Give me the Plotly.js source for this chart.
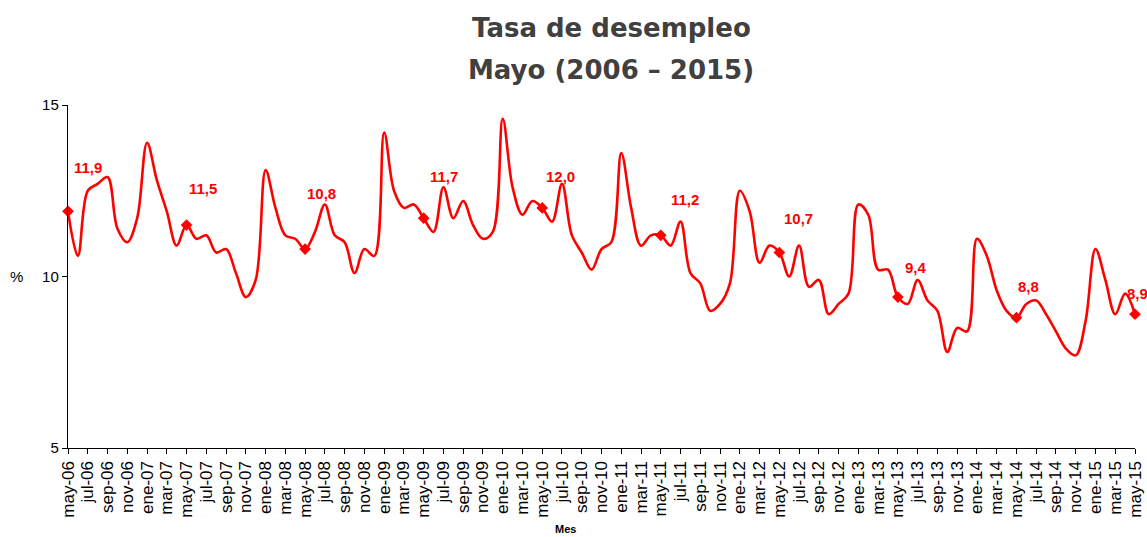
<!DOCTYPE html>
<html>
<head>
<meta charset="utf-8">
<script src="https://cdn.plot.ly/plotly-3.0.1.min.js"></script>
<style>
  html, body { margin: 0; padding: 0; background: #ffffff; }
  #chart { width: 1147px; height: 537px; }
</style>
</head>
<body>
<div id="chart"></div>
<script>
// ---- DATA ----
const monthAbbr = ["ene","feb","mar","abr","may","jun","jul","ago","sep","oct","nov","dic"];

// Monthly unemployment rate (%), May 2006 – May 2015
const rate2006 = [11.9, 10.6, 12.5, 12.7, 12.9, 11.4, 11.0, 11.7];            // may–dic
const rate2007 = [13.9, 12.8, 11.9, 10.9, 11.5, 11.1, 11.2, 10.7, 10.8, 10.1, 9.4, 9.9];
const rate2008 = [13.1, 12.0, 11.2, 11.1, 10.8, 11.3, 12.1, 11.2, 11.0, 10.1, 10.8, 10.6];
const rate2009 = [14.2, 12.5, 12.0, 12.1, 11.7, 11.3, 12.6, 11.7, 12.2, 11.5, 11.1, 11.3];
const rate2010 = [14.6, 12.6, 11.8, 12.2, 12.0, 11.6, 12.7, 11.2, 10.7, 10.2, 10.8, 11.0];
const rate2011 = [13.6, 12.0, 10.9, 11.2, 11.2, 10.9, 11.6, 10.1, 9.8, 9.0, 9.2, 9.8];
const rate2012 = [12.5, 11.9, 10.4, 10.9, 10.7, 10.0, 10.9, 9.7, 9.9, 8.9, 9.2, 9.5];
const rate2013 = [12.1, 11.8, 10.2, 10.2, 9.4, 9.2, 9.9, 9.3, 9.0, 7.8, 8.5, 8.4];
const rate2014 = [11.1, 10.6, 9.6, 9.0, 8.8, 9.2, 9.3, 8.9, 8.4, 7.9, 7.7, 8.7];
const rate2015 = [10.8, 9.9, 8.9, 9.5, 8.9];                                    // ene–may

const startYear = 2006, startMonth = 4; // may (0-based)

const titleLine1 = "Tasa de desempleo";
const titleLine2 = "Mayo (2006 – 2015)";
const yTitle = "%";
const xTitle = "Mes";

// ---- BUILD ----
const values = [].concat(rate2006, rate2007, rate2008, rate2009, rate2010,
                         rate2011, rate2012, rate2013, rate2014, rate2015);
const categories = values.map((v, i) => {
  const m = (startMonth + i) % 12;
  const y = startYear + Math.floor((startMonth + i) / 12);
  return monthAbbr[m] + "-" + String(y).slice(2);
});

// tick labels every two months
const tickVals = categories.filter((c, i) => i % 2 === 0);

// May points (highlighted)
const mayIdx = categories.map((c, i) => i).filter(i => categories[i].startsWith("may"));
const mayCats = mayIdx.map(i => categories[i]);
const mayVals = mayIdx.map(i => values[i]);

// label offsets (px) for each May label
const labelDx = [20, 16, 16, 20, 18, 24, 19, 18, 12, 2];
const labelDy = [44, 37, 56, 42, 31, 36, 34, 30, 31, 21];

const red = "#ff0000";
const sans = "Liberation Sans, Arial, sans-serif";

const lineTrace = {
  x: categories, y: values, type: "scatter", mode: "lines",
  line: { color: red, width: 2.6, shape: "spline", smoothing: 1 },
  hoverinfo: "x+y", showlegend: false
};
const mayTrace = {
  x: mayCats, y: mayVals, type: "scatter", mode: "markers",
  marker: { symbol: "diamond", color: red, size: 9 },
  showlegend: false, cliponaxis: false
};

const annotations = mayIdx.map((idx, k) => ({
  x: categories[idx], y: values[idx], xref: "x", yref: "y",
  text: "<b>" + values[idx].toFixed(1).replace(".", ",") + "</b>",
  showarrow: false, xshift: labelDx[k], yshift: labelDy[k],
  font: { family: sans, size: 15, color: red }
}));
annotations.push({
  text: "<b>" + titleLine1 + "</b>", xref: "paper", yref: "paper", x: 0.509, y: 1,
  yshift: 77, xanchor: "center", yanchor: "middle", showarrow: false,
  font: { family: "DejaVu Sans, Verdana, sans-serif", size: 26, color: "#404040" }
});
annotations.push({
  text: "<b>" + titleLine2 + "</b>", xref: "paper", yref: "paper", x: 0.509, y: 1,
  yshift: 35, xanchor: "center", yanchor: "middle", showarrow: false,
  font: { family: "DejaVu Sans, Verdana, sans-serif", size: 26, color: "#404040" }
});
annotations.push({
  text: yTitle, xref: "paper", yref: "paper", x: 0, xshift: -52, y: 0.5,
  xanchor: "center", yanchor: "middle", showarrow: false,
  font: { family: sans, size: 15, color: "#000" }
});
annotations.push({
  text: "<b>" + xTitle + "</b>", xref: "paper", yref: "paper", x: 0.466, y: 0, yshift: -81,
  xanchor: "center", yanchor: "middle", showarrow: false,
  font: { family: sans, size: 11, color: "#000" }
});

const layout = {
  width: 1147, height: 537,
  margin: { l: 68, r: 12, t: 105, b: 89, pad: 0 },
  paper_bgcolor: "#ffffff", plot_bgcolor: "#ffffff",
  xaxis: {
    type: "category", categoryorder: "array", categoryarray: categories,
    range: [0, categories.length - 1],
    tickmode: "array", tickvals: tickVals, ticktext: tickVals,
    tickangle: -90, ticks: "outside", ticklen: 5, tickwidth: 1, tickcolor: "#000",
    showline: true, linecolor: "#000", linewidth: 1.2,
    showgrid: false, zeroline: false,
    tickfont: { family: sans, size: 17, color: "#000" }
  },
  yaxis: {
    range: [5, 15], tickvals: [5, 10, 15], ticks: "outside", ticklen: 5,
    tickwidth: 1, tickcolor: "#000",
    showline: true, linecolor: "#000", linewidth: 1.2,
    showgrid: false, zeroline: false,
    tickfont: { family: sans, size: 15, color: "#000" }
  },
  annotations: annotations,
  showlegend: false
};

Plotly.newPlot("chart", [lineTrace, mayTrace], layout, { displayModeBar: false, staticPlot: true });
</script>
</body>
</html>
